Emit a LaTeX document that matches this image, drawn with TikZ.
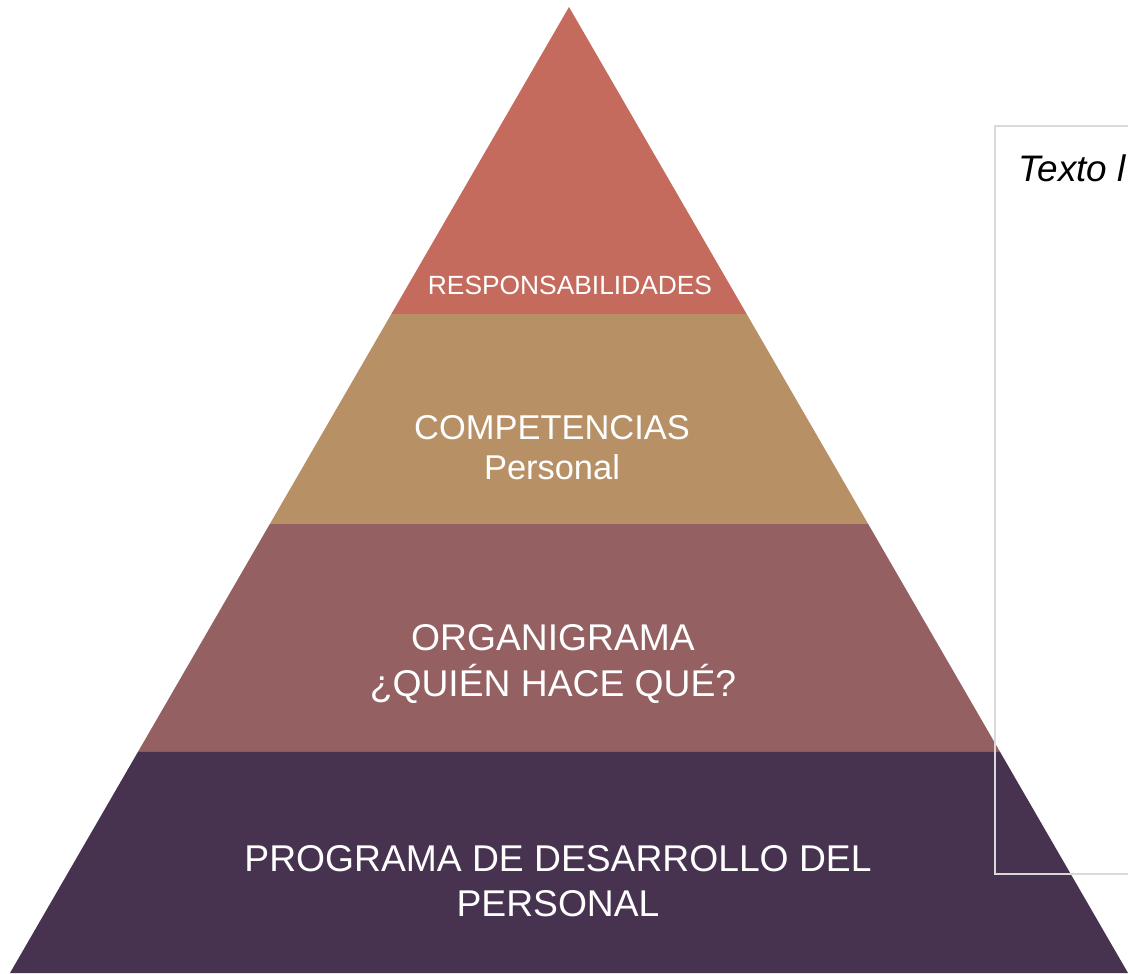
\documentclass[tikz,border=0pt]{standalone}
\usepackage{fontspec}
\setmainfont{Liberation Sans}
\usetikzlibrary{calc}

\definecolor{respred}{HTML}{C56B5D}
\definecolor{comptan}{HTML}{B89066}
\definecolor{orgmauve}{HTML}{946062}
\definecolor{progpurple}{HTML}{473350}
\definecolor{boxgray}{HTML}{D9D9D9}

\tikzset{
    layertext/.style={text=white, align=center, inner sep=0pt},
}

\begin{document}
\begin{tikzpicture}[x=0.02cm, y=-0.02cm]
    \useasboundingbox (0,0) rectangle (1128,973);
    \clip (0,0) rectangle (1128,973);

    % Define coordinates for pyramid
    \coordinate (top) at (569,7);
    \coordinate (left) at (10,973);
    \coordinate (right) at (1128,973);
    \foreach \i/\t in {1/0.3179, 2/0.5352, 3/0.7712} {
        \coordinate (l\i) at ($(top)!\t!(left)$);
        \coordinate (r\i) at ($(top)!\t!(right)$);
    }

    % Draw layers
    \fill[respred] (top) -- (l1) -- (r1) -- cycle;
    \fill[comptan] (l1) -- (l2) -- (r2) -- (r1) -- cycle;
    \fill[orgmauve] (l2) -- (l3) -- (r3) -- (r2) -- cycle;
    \fill[progpurple] (l3) -- (left) -- (right) -- (r3) -- cycle;

    % Draw labels
    \node[layertext, font=\fontsize{15}{18}\selectfont] (resp) at (570,285) {RESPONSABILIDADES};
    \node[layertext, font=\fontsize{19.6}{22.7}\selectfont] (comp) at (552,448) {COMPETENCIAS\\Personal};
    \node[layertext, font=\fontsize{21.2}{26}\selectfont] (org) at (553,664) {ORGANIGRAMA\\¿QUIÉN HACE QUÉ?};
    \node[layertext, font=\fontsize{21.2}{25.5}\selectfont] (prog) at (558,881) {PROGRAMA DE DESARROLLO DEL\\PERSONAL};

    % Draw text box
    \coordinate (boxnw) at (995,126);
    \coordinate (boxse) at (1160,874);
    \draw[boxgray, line width=1.1pt] (boxnw) rectangle (boxse);
    \node[anchor=base west, inner sep=0pt, font=\fontsize{21}{25}\selectfont\itshape] (boxtext) at (1018,182) {Texto l};
\end{tikzpicture}
\end{document}
